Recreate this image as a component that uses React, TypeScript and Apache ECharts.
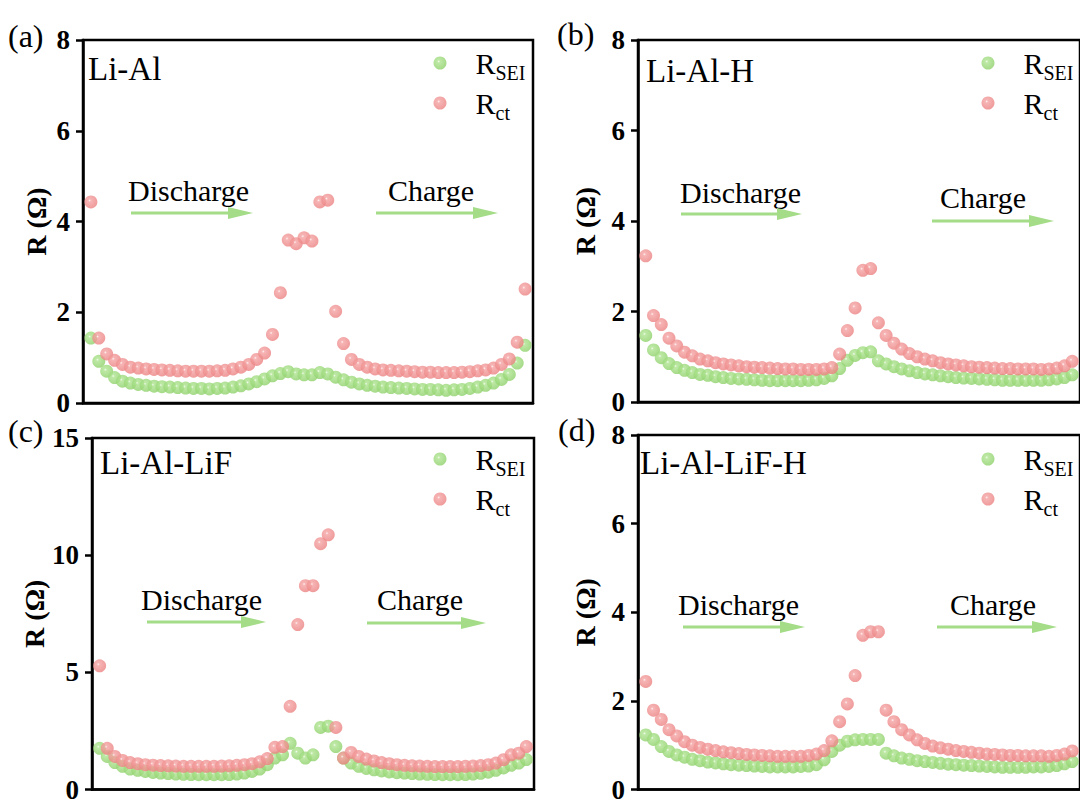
import React, { useEffect, useRef } from 'react';
import * as echarts from 'echarts';

// ---------- data (index of measurement along the discharge/charge cycle) ----------
const pointIndex56: number[] = [
  0, 1, 2, 3, 4, 5, 6, 7, 8, 9, 10, 11, 12, 13, 14, 15, 16, 17, 18, 19,
  20, 21, 22, 23, 24, 25, 26, 27, 28, 29, 30, 31, 32, 33, 34, 35, 36, 37, 38, 39,
  40, 41, 42, 43, 44, 45, 46, 47, 48, 49, 50, 51, 52, 53, 54, 55,
];
const pointIndex57: number[] = [
  0, 1, 2, 3, 4, 5, 6, 7, 8, 9, 10, 11, 12, 13, 14, 15, 16, 17, 18, 19,
  20, 21, 22, 23, 24, 25, 26, 27, 28, 29, 30, 31, 32, 33, 34, 35, 36, 37, 38, 39,
  40, 41, 42, 43, 44, 45, 46, 47, 48, 49, 50, 51, 52, 53, 54, 55, 56,
];

const liAl_Rsei = [
  1.43, 0.92, 0.70, 0.56, 0.48, 0.44, 0.41, 0.39, 0.37, 0.36, 0.35, 0.34, 0.33, 0.32, 0.32, 0.31, 0.32, 0.33, 0.35, 0.38,
  0.42, 0.47, 0.53, 0.60, 0.65, 0.69, 0.64, 0.62, 0.62, 0.67, 0.64, 0.57, 0.51, 0.46, 0.42, 0.39, 0.37, 0.35, 0.34, 0.33,
  0.32, 0.31, 0.30, 0.30, 0.29, 0.28, 0.29, 0.30, 0.32, 0.35, 0.39, 0.44, 0.52, 0.63, 0.88, 1.27,
];
const liAl_Rct = [
  4.43, 1.43, 1.08, 0.94, 0.85, 0.79, 0.77, 0.75, 0.74, 0.73, 0.72, 0.71, 0.70, 0.70, 0.70, 0.70, 0.71, 0.72, 0.75, 0.79,
  0.85, 0.96, 1.10, 1.51, 2.43, 3.59, 3.51, 3.64, 3.57, 4.43, 4.47, 2.02, 1.31, 0.96, 0.85, 0.79, 0.75, 0.73, 0.72, 0.71,
  0.70, 0.69, 0.68, 0.68, 0.67, 0.67, 0.67, 0.68, 0.69, 0.71, 0.73, 0.77, 0.85, 0.97, 1.34, 2.51,
];

const liAlH_Rsei = [
  1.47, 1.15, 0.98, 0.85, 0.76, 0.70, 0.65, 0.61, 0.59, 0.56, 0.54, 0.52, 0.51, 0.50, 0.49, 0.48, 0.47, 0.47, 0.47, 0.47,
  0.47, 0.48, 0.49, 0.52, 0.58, 0.74, 0.92, 1.03, 1.09, 1.11, 0.91, 0.84, 0.78, 0.73, 0.69, 0.65, 0.62, 0.60, 0.58, 0.56,
  0.54, 0.53, 0.52, 0.51, 0.50, 0.49, 0.48, 0.48, 0.48, 0.48, 0.48, 0.48, 0.49, 0.51, 0.54, 0.60,
];
const liAlH_Rct = [
  3.23, 1.91, 1.71, 1.41, 1.24, 1.10, 1.02, 0.95, 0.91, 0.87, 0.84, 0.82, 0.80, 0.78, 0.77, 0.76, 0.75, 0.74, 0.73, 0.73,
  0.72, 0.72, 0.72, 0.73, 0.76, 1.06, 1.58, 2.08, 2.91, 2.95, 1.75, 1.47, 1.30, 1.17, 1.07, 1.00, 0.95, 0.91, 0.87, 0.84,
  0.82, 0.80, 0.78, 0.77, 0.76, 0.75, 0.74, 0.74, 0.73, 0.73, 0.73, 0.72, 0.73, 0.75, 0.80, 0.90,
];

const liAlLiF_Rsei = [
  1.76, 1.41, 1.15, 0.99, 0.87, 0.82, 0.77, 0.73, 0.70, 0.68, 0.66, 0.65, 0.64, 0.63, 0.63, 0.63, 0.63, 0.64, 0.66, 0.70,
  0.77, 0.87, 1.06, 1.34, 1.48, 1.97, 1.55, 1.34, 1.48, 2.65, 2.70, 1.83, 1.34, 1.13, 0.99, 0.90, 0.84, 0.79, 0.75, 0.72,
  0.70, 0.68, 0.66, 0.65, 0.64, 0.63, 0.63, 0.63, 0.64, 0.66, 0.69, 0.74, 0.82, 0.92, 1.03, 1.13, 1.28,
];
const liAlLiF_Rct = [
  5.28, 1.76, 1.41, 1.24, 1.15, 1.10, 1.06, 1.04, 1.02, 1.01, 1.00, 0.99, 0.99, 0.99, 0.99, 0.99, 1.00, 1.01, 1.03, 1.06,
  1.10, 1.18, 1.32, 1.80, 1.83, 3.55, 7.04, 8.70, 8.70, 10.49, 10.87, 2.65, 1.34, 1.58, 1.41, 1.30, 1.22, 1.15, 1.10, 1.06,
  1.03, 1.01, 1.00, 0.99, 0.98, 0.98, 0.98, 0.98, 0.99, 1.00, 1.02, 1.06, 1.13, 1.27, 1.48, 1.55, 1.83,
];

const liAlLiFH_Rsei = [
  1.23, 1.13, 0.97, 0.86, 0.78, 0.73, 0.68, 0.65, 0.62, 0.60, 0.58, 0.56, 0.55, 0.54, 0.53, 0.52, 0.51, 0.51, 0.51, 0.51,
  0.52, 0.53, 0.56, 0.67, 0.86, 1.00, 1.09, 1.12, 1.13, 1.13, 1.13, 0.82, 0.76, 0.71, 0.68, 0.65, 0.63, 0.61, 0.59, 0.57,
  0.56, 0.55, 0.54, 0.53, 0.52, 0.51, 0.50, 0.50, 0.50, 0.50, 0.51, 0.51, 0.52, 0.54, 0.58, 0.63,
];
const liAlLiFH_Rct = [
  2.44, 1.79, 1.58, 1.35, 1.21, 1.08, 1.00, 0.95, 0.91, 0.88, 0.85, 0.83, 0.81, 0.79, 0.78, 0.77, 0.76, 0.75, 0.75, 0.75,
  0.75, 0.77, 0.80, 0.88, 1.10, 1.53, 1.93, 2.57, 3.48, 3.56, 3.56, 1.79, 1.53, 1.35, 1.23, 1.12, 1.04, 0.98, 0.94, 0.91,
  0.88, 0.86, 0.84, 0.82, 0.80, 0.79, 0.78, 0.77, 0.77, 0.76, 0.76, 0.76, 0.75, 0.77, 0.80, 0.87,
];

const sampleNames = ['Li-Al', 'Li-Al-H', 'Li-Al-LiF', 'Li-Al-LiF-H'];
const panelLetters = ['(a)', '(b)', '(c)', '(d)'];
const yMaxes = [8, 8, 15, 8];
const yIntervals = [2, 2, 5, 2];
const xSets = [pointIndex56, pointIndex56, pointIndex57, pointIndex56];
const rseiSets = [liAl_Rsei, liAlH_Rsei, liAlLiF_Rsei, liAlLiFH_Rsei];
const rctSets = [liAl_Rct, liAlH_Rct, liAlLiF_Rct, liAlLiFH_Rct];
const seriesNames = ['RSEI', 'Rct'];
const phaseLabels = ['Discharge', 'Charge'];
const yAxisTitle = 'R (Ω)';

// ---------- layout ----------
const FONT = 'Liberation Serif';
const grids = [
  { left: 83, top: 40, width: 450, height: 363 },
  { left: 638, top: 40, width: 450, height: 362 },
  { left: 92, top: 438, width: 442, height: 355 },
  { left: 638, top: 435, width: 450, height: 358 },
];
const nameGaps = [33, 39, 42, 39];
const letterPos = [[8, 20], [557, 18], [8, 415], [558, 414]];
const titlePos = [[88, 52], [646, 54], [100, 446], [640, 446]];
const legendPos = [[428.5, 43], [976.5, 43], [428.5, 439], [976.5, 439]];
// [textX, textY, arrowX1, arrowX2, arrowY] for discharge and charge
const phasePos = [
  [[128, 175, 131, 253, 213], [388, 175, 376, 498, 213]],
  [[680, 177, 681, 802, 214], [940, 182, 932, 1054, 221]],
  [[141, 584, 147, 266, 622], [377, 584, 367, 486, 623]],
  [[678, 589, 683, 805, 627], [950, 589, 937, 1057, 627]],
];

const ARROW = '#a4dc88';

const ball = (light: string, mid: string, dark: string) => ({
  type: 'radial',
  x: 0.4,
  y: 0.38,
  r: 0.62,
  colorStops: [
    { offset: 0, color: light },
    { offset: 0.18, color: mid },
    { offset: 1, color: dark },
  ],
});
const greenBall = ball('#effbe9', '#ade38f', '#8fd16b');
const redBall = ball('#ffeeee', '#f4a2a2', '#ec8282');

const boldRich = (size: number) => ({ b: { fontFamily: FONT, fontWeight: 'bold', fontSize: size, color: '#000' } });

function arrow(x1: number, x2: number, y: number) {
  const head = 25;
  return [
    { type: 'line', shape: { x1, y1: y, x2: x2 - head + 2, y2: y }, style: { stroke: ARROW, lineWidth: 3 }, z: 5 },
    { type: 'polygon', shape: { points: [[x2 - head, y - 6], [x2, y], [x2 - head, y + 6]] }, style: { fill: ARROW }, z: 5 },
  ];
}

export default function App() {
  const ref = useRef<HTMLDivElement>(null);
  useEffect(() => {
    if (!ref.current) return;
    const chart = echarts.init(ref.current, undefined, { renderer: 'svg' });
    const series: any[] = [];
    const graphic: any[] = [];
    grids.forEach((g, k) => {
      series.push({
        name: seriesNames[0], type: 'scatter', xAxisIndex: k, yAxisIndex: k,
        data: xSets[k].map((x, i) => [x, rseiSets[k][i]]),
        symbol: 'circle', symbolSize: 13, itemStyle: { color: greenBall as any }, z: 2,
      });
      series.push({
        name: seriesNames[1], type: 'scatter', xAxisIndex: k, yAxisIndex: k,
        data: xSets[k].map((x, i) => [x, rctSets[k][i]]),
        symbol: 'circle', symbolSize: 13, itemStyle: { color: redBall as any }, z: 3,
      });
      graphic.push({ type: 'text', left: letterPos[k][0], top: letterPos[k][1], style: { text: panelLetters[k], fontFamily: FONT, fontSize: 32, fill: '#000' } });
      graphic.push({ type: 'text', left: titlePos[k][0], top: titlePos[k][1], style: { text: sampleNames[k], fontFamily: FONT, fontSize: 33, fill: '#000' } });
      phasePos[k].forEach((p, j) => {
        graphic.push({ type: 'text', left: p[0], top: p[1], style: { text: phaseLabels[j], fontFamily: FONT, fontSize: 30, fill: '#000' }, z: 5 });
        graphic.push(...arrow(p[2], p[3], p[4]));
      });
    });

    const option: any = {
      animation: false,
      backgroundColor: '#ffffff',
      grid: grids.map((g) => ({ ...g, show: true, borderColor: '#000', borderWidth: 2.5, backgroundColor: 'transparent', containLabel: false })),
      xAxis: grids.map((_, k) => ({
        type: 'value', gridIndex: k, min: -1, max: xSets[k].length,
        axisLine: { show: true, onZero: false, lineStyle: { color: '#000', width: 2.5 } },
        axisTick: { show: false }, axisLabel: { show: false }, splitLine: { show: false },
      })),
      yAxis: grids.map((_, k) => ({
        type: 'value', gridIndex: k, min: 0, max: yMaxes[k], interval: yIntervals[k],
        name: `{b|${yAxisTitle}}`, nameLocation: 'middle', nameGap: nameGaps[k],
        nameTextStyle: { fontFamily: FONT, fontSize: 28, fontWeight: 'bold', color: '#000', rich: boldRich(28) },
        axisLine: { show: true, onZero: false, lineStyle: { color: '#000', width: 2.5 } },
        axisTick: { show: true, inside: false, length: 7, lineStyle: { color: '#000', width: 2.5 } },
        axisLabel: {
          fontFamily: FONT, fontSize: 27, color: '#000', margin: 13,
          formatter: (v: number) => `{b|${v}}`, rich: boldRich(27),
        },
        splitLine: { show: false },
      })),
      legend: legendPos.map((p) => ({
        left: p[0], top: p[1], orient: 'vertical', icon: 'circle',
        itemWidth: 13, itemHeight: 13, itemGap: 5, selectedMode: false,
        data: seriesNames,
        formatter: (n: string) => (n === 'RSEI' ? '{r|R}{s|SEI}' : '{r|R}{s|ct}'),
        textStyle: {
          rich: {
            r: { fontFamily: FONT, fontSize: 30, lineHeight: 40, color: '#000', padding: [0, 0, 0, 24] },
            s: { fontFamily: FONT, fontSize: 20, lineHeight: 14, verticalAlign: 'bottom', color: '#000' },
          },
        },
      })),
      series,
      graphic,
    };
    chart.setOption(option);
    return () => chart.dispose();
  }, []);
  return (
    <div style={{ position: 'fixed', left: 0, top: 0, width: 1080, height: 803, overflow: 'hidden', background: '#fff' }}>
      <div ref={ref} style={{ width: 1080, height: 803 }} />
    </div>
  );
}
